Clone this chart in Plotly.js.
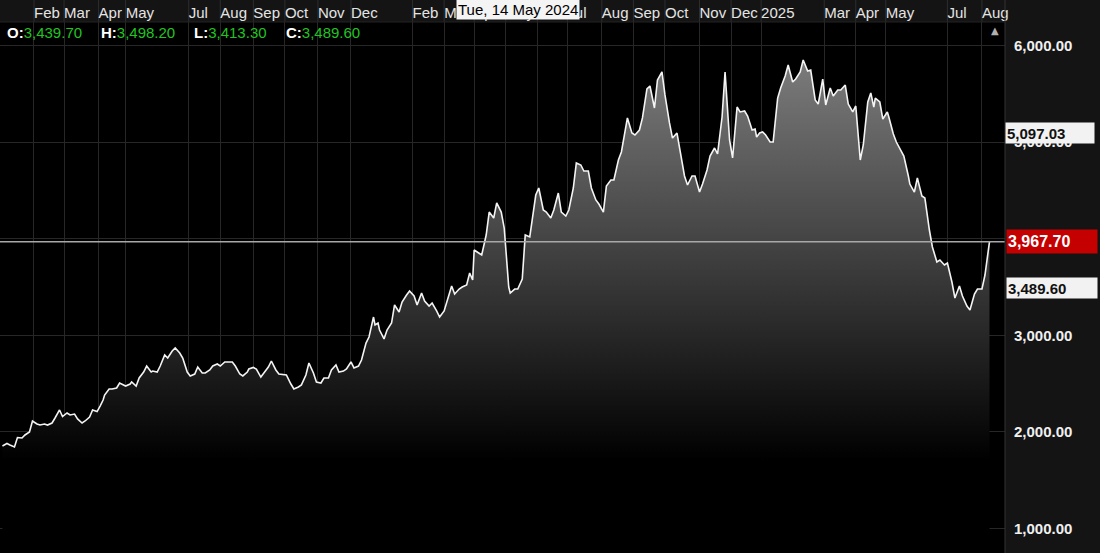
<!DOCTYPE html>
<html>
<head>
<meta charset="utf-8">
<script src="https://cdn.plot.ly/plotly-3.0.1.min.js"></script>
<style>
  html, body { margin: 0; padding: 0; background: #141414; }
  #chart { width: 1100px; height: 553px; }
</style>
</head>
<body>
<div id="chart"></div>
<script>
// ---- Data ----
// Two samples per week (Tuesday & Friday), first week starting Tue 3 Jan 2023
const firstTuesday = '2023-01-03';
const weeks = 136;
// UK market holidays (also used as axis breaks)
const holidays = ['2023-01-02','2023-04-07','2023-04-10','2023-05-01','2023-05-08','2023-05-29','2023-08-28',
  '2023-12-25','2023-12-26','2024-01-01','2024-03-29','2024-04-01','2024-05-06','2024-05-27','2024-08-26',
  '2024-12-25','2024-12-26','2025-01-01','2025-04-18','2025-04-21','2025-05-05','2025-05-26'];

const closeValues = [
  1854,1880, 1864,1844, 1942,1937, 1968,1999, 2113,2082, 2071,2082, 2071,2092, 2144,2227,
  2159,2196, 2175,2185, 2134,2092, 2113,2154, 2227,2211, 2268,2330, 2382,2444, 2444,2455,
  2506,2486, 2475,2496, 2517,2475, 2558,2620, 2682,2620, 2630,2620, 2682,2796, 2765,2837,
  2869,2817, 2765,2620, 2579,2599, 2672,2610, 2610,2641, 2682,2703, 2682,2724, 2724,2724,
  2682,2599, 2579,2620, 2651,2667, 2651,2568, 2610,2672, 2734,2641, 2599,2594, 2589,2496,
  2444,2465, 2486,2589, 2713,2610, 2517,2506, 2558,2558, 2641,2693, 2620,2630, 2651,2724,
  2662,2682, 2744,2920, 2982,3189, 3107,3127, 3055,2962, 3055,3127, 3314,3241, 3345,3417,
  3459,3407, 3314,3438, 3355,3303, 3334,3252, 3189,3252, 3365,3510, 3428,3479, 3500,3521,
  3645,3572, 3883,3852, 3831,4038, 4276,4214, 4370,4276, 4111,3500, 3438,3479, 3479,3583,
  4038,4018, 4121,4452, 4525,4297, 4276,4214, 4297,4473, 4276,4235, 4297,4525, 4784,4763,
  4701,4701, 4525,4401, 4359,4276, 4545,4608, 4608,4815, 4898,5146, 5250,5094, 5074,5125,
  5250,5550, 5581,5353, 5643,5726, 5488,5198, 5042,5094, 4898,4649, 4556,4649, 4649,4483,
  4566,4711, 4856,4939, 4877,5260, 5726,5022, 4836,5363, 5312,5322, 5270,5125, 5136,5053,
  5094,5105, 5074,5001, 5001,5456, 5560,5684, 5798,5622, 5653,5726, 5850,5736, 5746,5436,
  5394,5653, 5384,5560, 5477,5539, 5539,5591, 5394,5312, 5374,4815, 4970,5415, 5508,5363,
  5456,5415, 5239,5312, 5260,5084, 5001,4908, 4856,4649, 4566,4483, 4628,4442, 4421,4090,
  3914,3759, 3779,3728, 3748,3552, 3386,3510, 3407,3303, 3262,3428, 3479,3479, 3624,3967.7
];

const tickDates = ['2023-02-01','2023-03-01','2023-04-03','2023-05-02','2023-07-03','2023-08-01','2023-09-01',
  '2023-10-02','2023-11-01','2023-12-01','2024-02-01','2024-03-01','2024-04-02','2024-05-01','2024-06-03',
  '2024-07-01','2024-08-01','2024-09-02','2024-10-01','2024-11-01','2024-12-02','2025-01-02','2025-03-03',
  '2025-04-01','2025-05-01','2025-07-01','2025-08-01'];
const tickLabels = ['Feb','Mar','Apr','May','Jul','Aug','Sep','Oct','Nov','Dec','Feb','Mar','Apr','May','Jun',
  'Jul','Aug','Sep','Oct','Nov','Dec','2025','Mar','Apr','May','Jul','Aug'];

const yTicks = [1000, 2000, 3000, 4000, 5000, 6000];
const yTickLabels = ['1,000.00','2,000.00','3,000.00','','5,000.00','6,000.00'];

const ohlc = {O: '3,439.70', H: '3,498.20', L: '3,413.30', C: '3,489.60'};
const lastPrice = 3967.70;
const markerLevel = 5097.03;
const closeLevel = 3489.60;
const cursorDate = '2024-05-14';
const cursorLabel = 'Tue, 14 May 2024';

// ---- Build sample dates ----
function fmt(d) { return d.toISOString().slice(0, 10); }
const holidaySet = new Set(holidays);
const dates = [];
const t0 = new Date(firstTuesday + 'T00:00:00Z').getTime();
const DAY = 86400000;
for (let w = 0; w < weeks; w++) {
  let tue = fmt(new Date(t0 + 7 * w * DAY));
  if (holidaySet.has(tue)) tue = fmt(new Date(t0 + (7 * w + 1) * DAY));
  let fri = fmt(new Date(t0 + (7 * w + 3) * DAY));
  if (holidaySet.has(fri)) fri = fmt(new Date(t0 + (7 * w + 2) * DAY));
  dates.push(tue, fri);
}

const FONT = 'Liberation Sans, Arial, Helvetica, sans-serif';
const GRID = '#272727';

const trace = {
  type: 'scatter', mode: 'lines',
  x: dates, y: closeValues,
  line: {color: '#f4f4f4', width: 1.6},
  fill: 'tozeroy',
  fillgradient: {type: 'vertical', start: 1700, stop: 6000,
    colorscale: [[0, 'rgba(0,0,0,1)'], [1, 'rgba(128,128,128,1)']]},
  hoverinfo: 'skip'
};

// header grid segments above the plot, at each tick
const shapes = tickDates.map(d => ({type: 'line', xref: 'x', yref: 'paper', x0: d, x1: d, y0: 1, y1: 1.05,
  line: {color: '#2e2e2e', width: 1}, layer: 'below'}));
shapes.push({type: 'line', xref: 'paper', yref: 'y', x0: 0, x1: 1, y0: lastPrice, y1: lastPrice,
  line: {color: '#a8a8a8', width: 1.5}});
shapes.push({type: 'line', xref: 'paper', yref: 'paper', x0: 1, x1: 1, y0: 0, y1: 1.05,
  line: {color: '#333333', width: 1}});
shapes.push({type: 'line', xref: 'paper', yref: 'paper', x0: 0, x1: 1, y0: 1, y1: 1,
  line: {color: '#222222', width: 1}});

const PW = 1005;
const annotations = [];
const ohlcPos = [['O', 5], ['H', 99], ['L', 192], ['C', 284]];
ohlcPos.forEach(([k, px]) => annotations.push({
  xref: 'paper', yref: 'paper', x: px / PW, y: 1, xanchor: 'left', yanchor: 'top', yshift: 0,
  showarrow: false, align: 'left',
  text: '<b>' + k + ':</b><span style="color:#22c422">' + ohlc[k] + '</span>',
  font: {family: FONT, size: 15, color: '#ffffff'}
}));
annotations.push({xref: 'x', yref: 'paper', x: cursorDate, y: 1, xanchor: 'center', yanchor: 'bottom', yshift: 2,
  showarrow: false, text: cursorLabel, bgcolor: '#f4f4f4', borderpad: 1,
  font: {family: FONT, size: 15, color: '#000000'}});
annotations.push({xref: 'paper', yref: 'y', x: 1, y: markerLevel, xanchor: 'left', yanchor: 'middle', xshift: 0,
  showarrow: false, text: '<b>5,097.03</b>', align: 'left', width: 86, height: 18, borderpad: 1,
  bgcolor: '#f2f2f2', font: {family: FONT, size: 15, color: '#111111'}});
annotations.push({xref: 'paper', yref: 'y', x: 1, y: lastPrice, xanchor: 'left', yanchor: 'middle', xshift: 1,
  showarrow: false, text: '<b>3,967.70</b>', align: 'left', width: 88, height: 21, borderpad: 1,
  bgcolor: '#c40000', font: {family: FONT, size: 16, color: '#ffffff'}});
annotations.push({xref: 'paper', yref: 'y', x: 1, y: closeLevel, xanchor: 'left', yanchor: 'middle', xshift: 1,
  showarrow: false, text: '<b>3,489.60</b>', align: 'left', width: 88, height: 18, borderpad: 1,
  bgcolor: '#f2f2f2', font: {family: FONT, size: 15, color: '#111111'}});
annotations.push({xref: 'paper', yref: 'paper', x: 995 / PW, y: 1, xanchor: 'center', yanchor: 'top', yshift: -1,
  showarrow: false, text: '▲', font: {family: 'DejaVu Sans', size: 10, color: '#b0b0b0'}});

const layout = {
  width: 1100, height: 553,
  margin: {l: 0, r: 95, t: 22, b: 0, pad: 0},
  paper_bgcolor: '#141414', plot_bgcolor: '#000000',
  showlegend: false,
  xaxis: {
    type: 'date', side: 'top',
    range: ['2022-12-29 09:00', '2025-08-22 08:00'],
    rangebreaks: [{bounds: ['sat', 'mon']}, {values: holidays}],
    tickmode: 'array', tickvals: tickDates, ticktext: tickLabels,
    ticks: '', ticklabelposition: 'outside right', tickangle: 0,
    tickfont: {family: FONT, size: 15, color: '#e4e4e4'},
    showgrid: true, gridcolor: GRID, gridwidth: 1,
    zeroline: false, showline: false, fixedrange: true, automargin: false
  },
  yaxis: {
    side: 'right', range: [746.4, 6243.3],
    tickmode: 'array', tickvals: yTicks, ticktext: yTickLabels,
    ticks: '', ticklabelstandoff: 8,
    tickfont: {family: FONT, size: 15, color: '#f0f0f0', weight: 'bold'},
    showgrid: true, gridcolor: GRID, gridwidth: 1,
    zeroline: false, showline: false, fixedrange: true, automargin: false
  },
  shapes: shapes,
  annotations: annotations
};

Plotly.newPlot('chart', [trace], layout, {displayModeBar: false, staticPlot: true});
</script>
</body>
</html>
